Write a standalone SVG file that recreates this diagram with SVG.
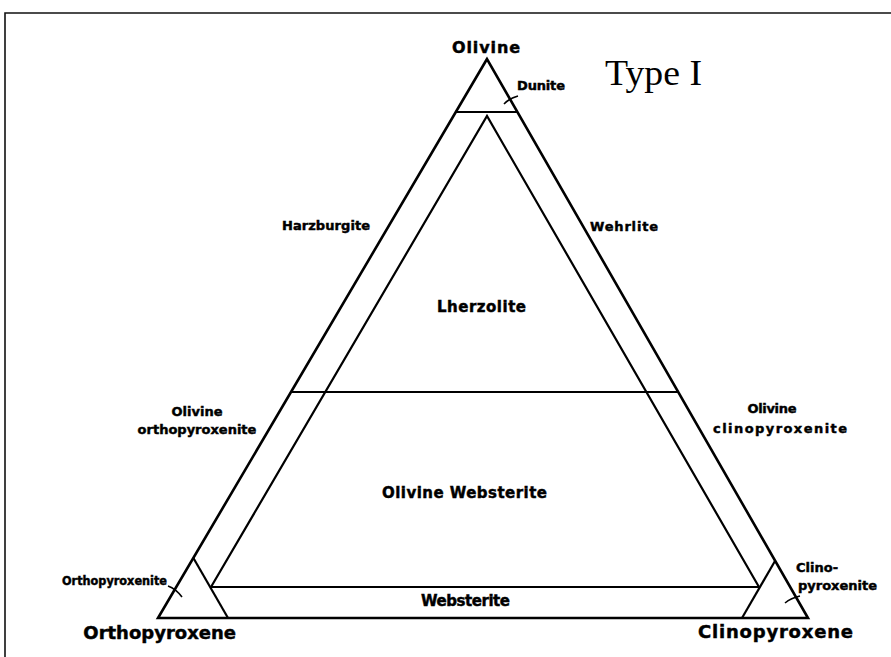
<svg xmlns="http://www.w3.org/2000/svg" width="891" height="657" viewBox="0 0 891 657">
  <style>
    .frame { fill: none; stroke: #111; stroke-width: 1.6; }
    .edge { fill: none; stroke: #000; stroke-width: 2.6; stroke-linejoin: miter; }
    .rule { fill: none; stroke: #000; stroke-width: 2.2; }
    .tick { fill: none; stroke: #000; stroke-width: 1.6; }
    .lbl { font-family: "DejaVu Sans", "Liberation Sans", sans-serif; font-weight: bold; fill: #000; stroke: #000; stroke-width: 0.45; }
    .s12 { font-size: 12px; }
    .s13 { font-size: 13px; }
    .s15 { font-size: 15px; }
    .s16 { font-size: 16px; }
    .s18 { font-size: 18px; }
    .title { font-family: "Liberation Serif", "Times New Roman", serif; font-size: 35px; fill: #000; }
  </style>

  <rect width="891" height="657" fill="#fff"/>

  <!-- page frame: top and left rules -->
  <path class="frame" d="M5,657 V13 H891"/>

  <!-- field boundaries of the ternary diagram -->
  <g id="connectors">
    <!-- outer triangle -->
    <path class="edge" d="M487,59 L158,618 L808,618 Z"/>
    <!-- dunite cut-off -->
    <line class="rule" x1="456" y1="112" x2="517.5" y2="112"/>
    <!-- inner triangle (lherzolite / olivine websterite) -->
    <path class="rule" d="M211,587 L487,116 L759,587"/>
    <!-- lherzolite / olivine websterite boundary -->
    <line class="rule" x1="290" y1="392" x2="678" y2="392"/>
    <!-- websterite band -->
    <line class="rule" x1="211" y1="587" x2="759" y2="587"/>
    <!-- pyroxenite corners -->
    <line class="rule" x1="193.4" y1="558" x2="228" y2="618"/>
    <line class="rule" x1="775" y1="561" x2="742" y2="618"/>
    <!-- label leaders -->
    <path class="tick" d="M504,104 Q510,98 518,96"/>
    <path class="tick" d="M168,586 Q176,589 182,597"/>
    <path class="tick" d="M785,603 Q791,598 800,596"/>
  </g>

  <g id="olivine"><text class="lbl s16" x="486" y="53" text-anchor="middle" textLength="68" lengthAdjust="spacing">Olivine</text></g>
  <g id="type"><text class="title" x="605" y="85" textLength="97" lengthAdjust="spacingAndGlyphs">Type I</text></g>
  <g id="dunite"><text class="lbl s13" x="517" y="90" textLength="48" lengthAdjust="spacing">Dunite</text></g>
  <g id="harzburgite"><text class="lbl s13" x="282" y="230" textLength="88" lengthAdjust="spacing">Harzburgite</text></g>
  <g id="wehrlite"><text class="lbl s13" x="590" y="231" textLength="68" lengthAdjust="spacing">Wehrlite</text></g>
  <g id="lherzolite"><text class="lbl s15" x="437" y="312" textLength="89" lengthAdjust="spacing">Lherzolite</text></g>
  <g id="ol-opx">
    <text class="lbl s13" x="197" y="416" text-anchor="middle">Olivine</text>
    <text class="lbl s13" x="197" y="434" text-anchor="middle">orthopyroxenite</text>
  </g>
  <g id="ol-cpx">
    <text class="lbl s13" x="772" y="413" text-anchor="middle" textLength="49" lengthAdjust="spacing">Olivine</text>
    <text class="lbl s13" x="780" y="433" text-anchor="middle" textLength="134" lengthAdjust="spacing">clinopyroxenite</text>
  </g>
  <g id="ol-websterite"><text class="lbl s15" x="382" y="498" textLength="165" lengthAdjust="spacing">Olivine Websterite</text></g>
  <g id="websterite"><text class="lbl s15" x="421" y="606" textLength="89" lengthAdjust="spacing">Websterite</text></g>
  <g id="orthopyroxenite"><text class="lbl s12" x="62" y="585" textLength="105" lengthAdjust="spacingAndGlyphs">Orthopyroxenite</text></g>
  <g id="clinopyroxenite">
    <text class="lbl s13" x="796" y="572">Clino-</text>
    <text class="lbl s13" x="798" y="590" textLength="79" lengthAdjust="spacing">pyroxenite</text>
  </g>
  <g id="orthopyroxene"><text class="lbl s18" x="236" y="639" text-anchor="end">Orthopyroxene</text></g>
  <g id="clinopyroxene"><text class="lbl s18" x="698" y="638" textLength="155" lengthAdjust="spacing">Clinopyroxene</text></g>
</svg>
